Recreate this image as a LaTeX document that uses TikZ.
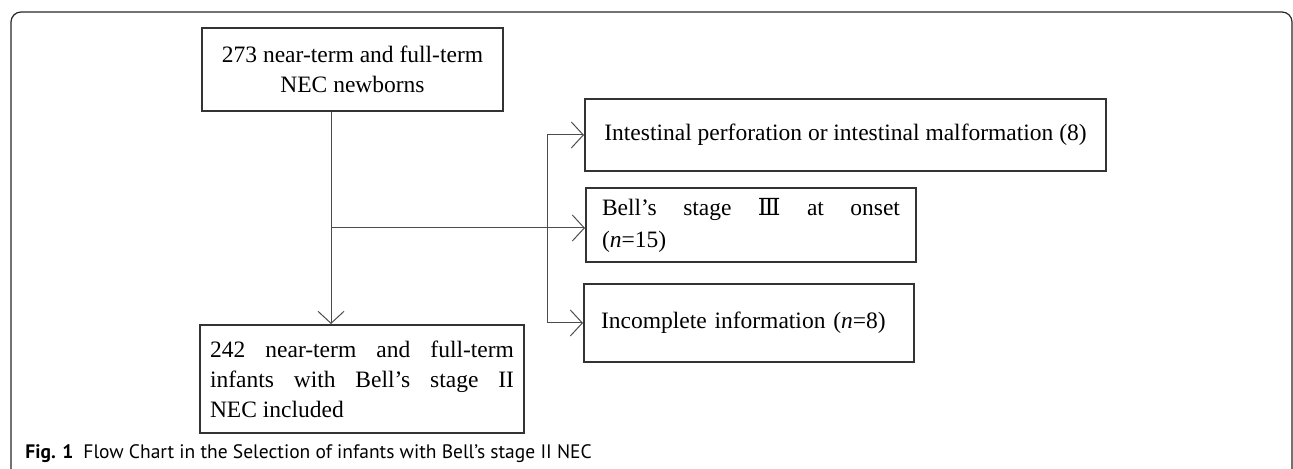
\documentclass[tikz,border=0pt]{standalone}
\usepackage{fontspec}
\setmainfont{Liberation Serif}
\newfontfamily\capfont{PT Sans}
\newfontfamily\romfont{DejaVu Serif}
\usetikzlibrary{arrows.meta}

\begin{document}
\begin{tikzpicture}[x=0.5pt, y=-0.5pt,
	box/.style={draw=black!80, line width=1pt, inner sep=0pt, font=\fontsize{11.75}{15}\selectfont},
	arr/.style={draw=black!70, line width=0.5pt, -{Straight Barb[length=6pt,width=13pt]}}]
	\useasboundingbox (0,0) rectangle (1293,469);
	% outer frame
	\draw[black!85, line width=0.6pt, rounded corners=5pt] (11,469) -- (11,12) -- (1292,12) -- (1292,469);

	\node [box, minimum width=150.5pt, minimum height=41.5pt, align=center] (all) at (352.5,69.5)
		{273 near-term and full-term\\NEC newborns};
	\node [box, minimum width=162pt, minimum height=54pt, text width=152pt, align=justify] (incl) at (362,379)
		{242 near-term and full-term\linebreak infants with Bell’s stage II\linebreak NEC included};
	\node [box, minimum width=260.5pt, minimum height=36pt, align=left] (perf) at (845.5,135)
		{Intestinal perforation or intestinal malformation (8)};
	\node [box, minimum width=165pt, minimum height=37pt, text width=149pt, align=justify,
		font=\fontsize{11.75}{16}\selectfont] (stage) at (751,225)
		{Bell’s stage {\romfont Ⅲ} at onset\linebreak (\textit{n}=15)};
	\node [box, minimum width=165pt, minimum height=39pt, text width=148pt, align=left] (miss) at (749,323)
		{Incomplete information (\textit{n}=8)};

	\coordinate (branch) at (331,228);
	\coordinate (split) at (547,228);
	\draw [arr] (all.south -| branch) -- (incl.north -| branch);
	\draw [arr] (branch) -- (stage.west |- branch);
	\draw [arr, {Straight Barb[length=6pt,width=13pt]}-{Straight Barb[length=6pt,width=13pt]}] (perf.west) -| (split) |- (miss.west);

	% caption
	\node [anchor=base west, inner sep=0pt, font=\capfont\fontsize{9.75}{11}\selectfont] (cap) at (25,458)
		{\textbf{Fig. 1}\hspace{5pt}Flow Chart in the Selection of infants with Bell’s stage II NEC};
\end{tikzpicture}
\end{document}
